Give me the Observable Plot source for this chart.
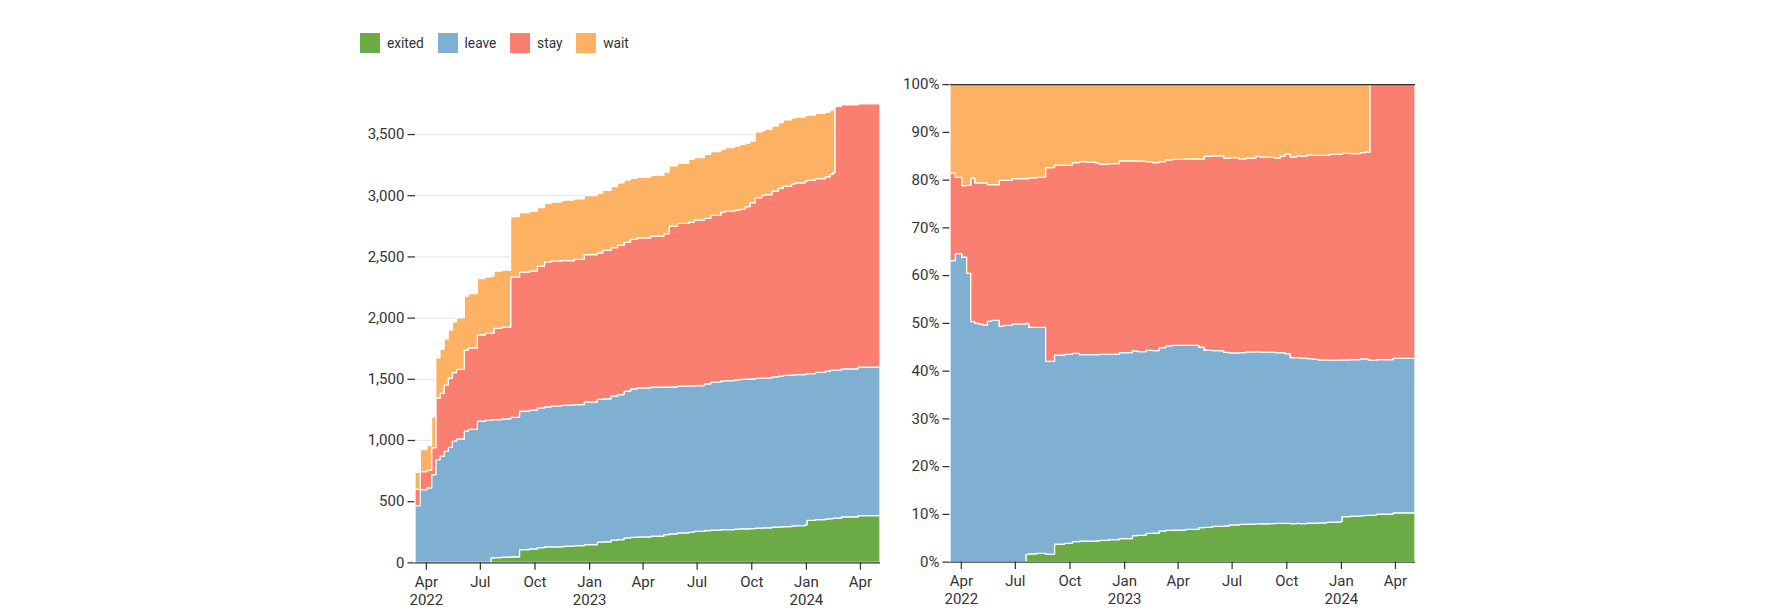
<!DOCTYPE html>
<html><head><meta charset="utf-8">
<script src="https://cdn.jsdelivr.net/npm/d3@7"></script>
<script src="https://cdn.jsdelivr.net/npm/@observablehq/plot@0.6"></script>
<style>
html,body{margin:0;padding:0;background:#fff;}
#wrap{position:relative;width:1432px;height:489px;zoom:1.25;font-family:Roboto,sans-serif;}
</style></head><body><div id="wrap"></div>
<script>
const series = ["exited", "leave", "stay", "wait"];
const colors = ["#6caa46", "#7fb0d2", "#fb7f71", "#fcb262"];
const dates = ["2022-03-14","2022-03-23","2022-04-03","2022-04-11","2022-04-18","2022-04-25","2022-05-02","2022-05-09","2022-05-16","2022-05-23","2022-06-05","2022-06-12","2022-06-27","2022-07-10","2022-07-20","2022-07-25","2022-08-07","2022-08-22","2022-09-06","2022-09-23","2022-10-06","2022-10-18","2022-10-29","2022-11-15","2022-11-21","2022-12-07","2022-12-24","2023-01-15","2023-01-24","2023-02-07","2023-02-18","2023-03-01","2023-03-12","2023-03-23","2023-04-15","2023-05-07","2023-05-16","2023-05-30","2023-06-18","2023-06-27","2023-07-14","2023-07-25","2023-08-11","2023-08-18","2023-09-03","2023-09-12","2023-09-21","2023-09-29","2023-10-08","2023-10-19","2023-10-24","2023-11-05","2023-11-16","2023-11-24","2023-12-08","2023-12-14","2023-12-31","2024-01-03","2024-01-17","2024-02-03","2024-02-11","2024-02-16","2024-02-19","2024-03-01","2024-03-29","2024-05-05"];
const exited = [0,0,0,0,0,0,0,0,0,0,0,0,0,0,35,38,41,44,104,109,120,125,125,128,131,136,144,164,166,180,185,199,204,207,213,226,232,240,245,253,259,262,267,267,270,273,273,275,278,281,281,286,289,292,297,300,305,343,349,354,357,360,360,371,382,390];
const leave = [463,594,608,717,839,867,907,939,989,1008,1071,1085,1153,1160,1130,1128,1130,1140,1131,1134,1142,1145,1150,1153,1153,1153,1166,1166,1169,1177,1185,1199,1213,1218,1218,1204,1202,1199,1196,1191,1199,1210,1215,1218,1221,1221,1224,1224,1224,1224,1226,1229,1232,1234,1234,1234,1234,1199,1202,1207,1210,1210,1210,1210,1213,1218];
const stay = [135,147,143,219,502,512,540,565,561,568,665,666,705,710,709,745,750,1146,1136,1136,1158,1185,1185,1183,1180,1185,1204,1199,1213,1213,1221,1218,1221,1226,1234,1256,1313,1330,1338,1352,1352,1363,1379,1384,1387,1390,1409,1439,1477,1493,1496,1518,1534,1548,1561,1567,1575,1581,1583,1589,1602,1613,2158,2158,2153,2161];
const wait = [137,180,203,252,329,360,378,393,414,421,439,443,459,462,463,467,467,494,485,488,477,477,482,491,496,496,482,485,491,499,510,507,499,496,496,501,491,491,512,510,523,520,512,518,523,531,518,504,537,529,534,531,537,540,540,537,537,531,534,529,526,531,0,0,0,0];

const values = {exited, leave, stay, wait};
const rows = [];
dates.forEach((s, i) => {
  const date = new Date(s);
  series.forEach(k => rows.push({date, series: k, value: values[k][i]}));
});
const x0 = new Date(dates[0]), x1 = new Date(dates[dates.length - 1]);
const fmt = d => {
  const m = d3.utcFormat("%b")(d);
  const first = d.getUTCFullYear() === 2022 && d.getUTCMonth() === 3;
  return (d.getUTCMonth() === 0 || first) ? m + "\n" + d.getUTCFullYear() : m;
};
const style = {fontSize: "12px", fontFamily: "Roboto", color: "#333", background: "transparent", overflow: "visible"};
const quarter = d3.utcMonth.every(3);
const hasAxis = typeof Plot.axisX === "function";
const xOpts = hasAxis
  ? {type: "utc", domain: [x0, x1], label: null}
  : {type: "utc", domain: [x0, x1], ticks: quarter, tickFormat: fmt, label: null};
const xAxis = hasAxis ? [Plot.axisX({ticks: quarter, tickFormat: fmt, lineHeight: 1.2, label: null})] : [];
const color = {domain: series, range: colors};

const wrap = document.getElementById("wrap");

const legend = Plot.legend({color, swatchSize: 16, style: {fontSize: "11px", fontFamily: "Roboto", color: "#333"}});
legend.style.position = "absolute";
legend.style.left = "288px";
legend.style.top = "18px";
legend.style.margin = "0";
wrap.appendChild(legend);

const left = Plot.plot({
  width: 426, height: 429, marginLeft: 44, marginRight: 10, marginTop: 20, marginBottom: 40,
  style, x: xOpts,
  y: {grid: true, label: null, ticks: d3.range(0, 3501, 500)},
  color,
  marks: [
    Plot.areaY(rows, {x: "date", y: "value", fill: "series", z: "series", curve: "step-after", stroke: "white", strokeWidth: 1}),
    ...xAxis,
    Plot.ruleY([0])
  ]
});
left.style.position = "absolute";
left.style.left = "288px";
left.style.top = "61px";
wrap.appendChild(left);

const right = Plot.plot({
  width: 426, height: 442, marginLeft: 44, marginRight: 10, marginTop: 20, marginBottom: 40,
  style, x: xOpts,
  y: {label: null, ticks: d3.range(0, 1.0001, 0.1), tickFormat: d3.format(".0%")},
  color,
  marks: [
    Plot.areaY(rows, {x: "date", y: "value", fill: "series", z: "series", offset: "normalize", curve: "step-after", stroke: "white", strokeWidth: 1}),
    ...xAxis,
    Plot.ruleY([0, 1])
  ]
});
right.style.position = "absolute";
right.style.left = "716px";
right.style.top = "47px";
wrap.appendChild(right);
</script></body></html>
